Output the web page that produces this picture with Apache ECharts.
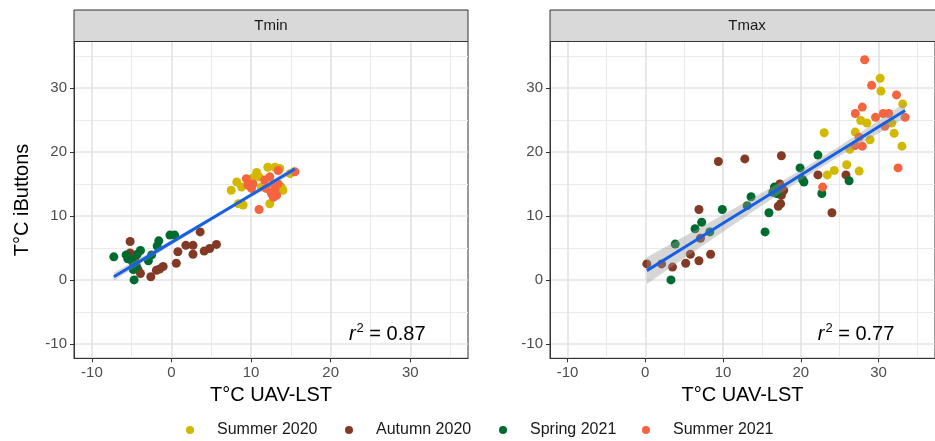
<!DOCTYPE html>
<html>
<head>
<meta charset="utf-8">
<script src="https://cdn.jsdelivr.net/npm/echarts@6/dist/echarts.min.js"></script>
<style>
  html, body { margin: 0; padding: 0; background: #ffffff; }
  #chart { width: 935px; height: 441px; }
</style>
</head>
<body>
<div id="chart"></div>
<script>
// ---- labels ----
const seasons = ['Summer 2020', 'Autumn 2020', 'Spring 2021', 'Summer 2021'];
const panelTitles = ['Tmin', 'Tmax'];
const majorTicks = [-10, 0, 10, 20, 30];
const minorTicks = [-5, 5, 15, 25, 35];
const r2Labels = ['0.87', '0.77'];
const xTitle = 'T°C UAV-LST';
const yTitle = 'T°C iButtons';

// ---- Tmin panel: [UAV-LST, iButton] ----
const tminSummer2020 = [
  [7.5, 14.0], [8.2, 15.3], [8.8, 14.5], [8.4, 11.9], [9.0, 11.7], [10.7, 16.8],
  [11.0, 16.1], [11.3, 14.5], [12.1, 17.6], [13.0, 17.6], [13.6, 17.4], [13.8, 14.5],
  [14.0, 14.0], [12.35, 11.9], [14.9, 16.6], [10.2, 15.9]
];
const tminAutumn2020 = [
  [-5.2, 6.0], [-5.2, 4.2], [-4.6, 3.4], [-4.2, 1.6], [-3.9, 1.0], [-2.6, 0.5],
  [-1.9, 1.5], [-1.5, 1.7], [-1.05, 2.1], [0.6, 2.6], [0.8, 4.4], [1.8, 5.4],
  [2.7, 5.4], [2.7, 4.0], [3.6, 7.5], [4.1, 4.5], [4.8, 4.9], [5.65, 5.55]
];
const tminSpring2021 = [
  [-7.25, 3.6], [-5.7, 3.9], [-5.0, 3.1], [-4.8, 2.6], [-4.4, 2.1], [-4.8, 1.6],
  [-4.7, 0.0], [-3.9, 4.6], [-4.3, 4.0], [-2.9, 3.0], [-2.5, 3.9], [-1.8, 5.3],
  [-1.6, 6.1], [-0.2, 7.0], [0.4, 7.0], [-5.5, 3.3]
];
const tminSummer2021 = [
  [9.4, 15.8], [9.6, 14.8], [10.25, 15.0], [10.05, 14.3], [11.7, 15.6], [12.35, 16.1],
  [12.8, 15.0], [13.0, 14.0], [13.2, 13.2], [13.4, 17.1], [15.5, 16.9], [11.0, 11.0],
  [12.55, 13.5], [11.9, 14.3], [13.4, 15.0], [12.8, 12.9]
];
// fitted line and 95% band
const tminFitX = [-7.25, -3, 1, 5, 9, 13, 15.5];
const tminFitY = [0.5, 3.64, 6.6, 9.56, 12.52, 15.48, 17.33];
const tminBandLow = [-0.1, 3.19, 6.25, 9.26, 12.22, 15.08, 16.83];
const tminBandHigh = [1.1, 4.09, 6.95, 9.86, 12.82, 15.88, 17.83];

// ---- Tmax panel ----
const tmaxSummer2020 = [
  [23.0, 23.0], [23.4, 16.4], [24.3, 17.1], [25.9, 18.0], [26.3, 20.4], [27.0, 23.1],
  [27.5, 17.0], [27.7, 24.9], [28.5, 24.5], [28.9, 21.9], [30.2, 31.5], [30.3, 29.5],
  [31.7, 24.5], [32.0, 22.9], [33.0, 20.9], [33.1, 27.5]
];
const tmaxAutumn2020 = [
  [0.2, 2.5], [2.1, 2.5], [3.5, 2.0], [5.2, 2.6], [5.8, 4.0], [6.9, 3.0], [8.4, 4.0],
  [7.1, 6.5], [6.9, 11.0], [9.4, 18.5], [12.8, 18.9], [17.5, 19.4], [17.3, 15.0],
  [17.8, 14.0], [17.5, 13.2], [17.4, 11.9], [17.1, 11.5], [22.2, 16.4], [25.8, 16.4],
  [24.0, 10.5]
];
const tmaxSpring2021 = [
  [3.3, 0.0], [3.85, 5.6], [6.4, 8.0], [7.25, 9.0], [8.3, 7.5], [9.9, 11.0],
  [13.1, 11.6], [13.6, 13.0], [15.4, 7.5], [15.9, 10.5], [16.6, 14.5], [16.4, 13.7],
  [16.9, 13.5], [19.9, 17.5], [20.2, 15.7], [20.4, 15.3], [22.2, 19.5], [22.7, 13.5],
  [26.2, 15.5]
];
const tmaxSummer2021 = [
  [22.8, 14.5], [27.0, 21.0], [27.9, 20.9], [27.5, 22.3], [27.0, 26.0], [27.9, 27.0],
  [28.2, 34.4], [29.1, 30.4], [29.6, 25.4], [30.6, 26.0], [30.8, 24.0], [31.3, 26.0],
  [32.3, 28.9], [32.5, 17.5], [33.4, 25.4]
];
const tmaxFitX = [0.2, 5, 10, 15, 20, 25, 30, 33.4];
const tmaxFitY = [1.45, 5.07, 8.84, 12.61, 16.38, 20.15, 23.92, 26.48];
const tmaxBandLow = [-0.65, 3.37, 7.51, 11.61, 15.6, 19.37, 22.93, 25.28];
const tmaxBandHigh = [3.55, 6.77, 10.17, 13.61, 17.16, 20.93, 24.91, 27.68];

// ---- styling ----
const FONT = '"Liberation Sans", Arial, Helvetica, sans-serif';
const seasonColors = ['#D2B900', '#833A24', '#006B2F', '#F5643F'];
const AXIS_MIN = -12.25, AXIS_MAX = 37.25;
const PANEL_TOP = 41.5, PANEL_H = 316.8, PANEL_W = 394;
const panelLeft = [74, 550];
const STRIP_TOP = 10;
const legendLeft = [186, 345, 499, 642];

const panels = [
  { points: [tminSummer2020, tminAutumn2020, tminSpring2021, tminSummer2021],
    fitX: tminFitX, fitY: tminFitY, low: tminBandLow, high: tminBandHigh },
  { points: [tmaxSummer2020, tmaxAutumn2020, tmaxSpring2021, tmaxSummer2021],
    fitX: tmaxFitX, fitY: tmaxFitY, low: tmaxBandLow, high: tmaxBandHigh }
];
const r2Anchor = [27.1, -8.5];

const grids = panelLeft.map(l => ({
  left: l, top: PANEL_TOP, width: PANEL_W, height: PANEL_H,
  show: true, borderColor: '#333333', borderWidth: 1, backgroundColor: '#ffffff'
}));

const xAxes = [], yAxes = [];
panels.forEach((p, i) => {
  // main axes carry labels, ticks and major grid lines
  xAxes.push({
    type: 'value', gridIndex: i, min: AXIS_MIN, max: AXIS_MAX, position: 'bottom',
    name: xTitle, nameLocation: 'middle', nameGap: 27,
    nameTextStyle: { fontFamily: FONT, fontSize: 20, color: '#000000' },
    axisLine: { show: true, onZero: false, lineStyle: { color: '#333333', width: 1 } },
    axisTick: { show: true, length: 4, customValues: majorTicks, lineStyle: { color: '#333333', width: 1 } },
    axisLabel: { customValues: majorTicks, margin: 7, fontFamily: FONT, fontSize: 15, color: '#4D4D4D' },
    splitLine: { show: true, lineStyle: { color: '#E3E3E3', width: 1.6 } }
  });
  yAxes.push({
    type: 'value', gridIndex: i, min: AXIS_MIN, max: AXIS_MAX, position: 'left',
    name: i === 0 ? yTitle : '', nameLocation: 'middle', nameGap: 42,
    nameTextStyle: { fontFamily: FONT, fontSize: 20, color: '#000000' },
    axisLine: { show: true, onZero: false, lineStyle: { color: '#333333', width: 1 } },
    axisTick: { show: true, length: 4, customValues: majorTicks, lineStyle: { color: '#333333', width: 1 } },
    axisLabel: { customValues: majorTicks, margin: 7, fontFamily: FONT, fontSize: 15, color: '#4D4D4D' },
    splitLine: { show: true, lineStyle: { color: '#E3E3E3', width: 1.6 } }
  });
});
panels.forEach((p, i) => {
  // companion axes for the minor grid lines
  xAxes.push({
    type: 'value', gridIndex: i, min: AXIS_MIN, max: AXIS_MAX, position: 'bottom',
    axisLine: { show: false }, axisTick: { show: false, customValues: minorTicks },
    axisLabel: { show: false, customValues: minorTicks },
    splitLine: { show: true, lineStyle: { color: '#EAEAEA', width: 1 } }
  });
  yAxes.push({
    type: 'value', gridIndex: i, min: AXIS_MIN, max: AXIS_MAX, position: 'left',
    axisLine: { show: false }, axisTick: { show: false, customValues: minorTicks },
    axisLabel: { show: false, customValues: minorTicks },
    splitLine: { show: true, lineStyle: { color: '#EAEAEA', width: 1 } }
  });
});

const series = [];
panels.forEach((p, i) => {
  p.points.forEach((pts, s) => {
    series.push({
      type: 'scatter', name: seasons[s], xAxisIndex: i, yAxisIndex: i,
      data: pts, symbol: 'circle', symbolSize: 9, z: 2,
      itemStyle: { color: seasonColors[s], opacity: 1 },
      emphasis: { disabled: true }
    });
  });
  // confidence band as one polygon through the axis scales
  const band = p.fitX.map((x, k) => [x, p.low[k], p.high[k]]);
  series.push({
    type: 'custom', xAxisIndex: i, yAxisIndex: i, z: 3, silent: true,
    data: band, encode: { x: 0, y: [1, 2] },
    renderItem: (params, api) => {
      if (params.dataIndexInside !== 0) return null;
      const upper = band.map(d => api.coord([d[0], d[2]]));
      const lower = band.map(d => api.coord([d[0], d[1]])).reverse();
      return {
        type: 'polygon',
        shape: { points: upper.concat(lower) },
        style: { fill: '#999999', opacity: 0.4 }
      };
    }
  });
  series.push({
    type: 'line', xAxisIndex: i, yAxisIndex: i, z: 4,
    data: p.fitX.map((x, k) => [x, p.fitY[k]]),
    symbol: 'none', silent: true,
    lineStyle: { color: '#1560E6', width: 3 },
    markPoint: {
      symbol: 'circle', symbolSize: 0, silent: true,
      data: [{ coord: r2Anchor }],
      label: {
        show: true, position: 'inside',
        formatter: '{i|r}{s|2}{n| = ' + r2Labels[i] + '}',
        rich: {
          i: { fontFamily: FONT, fontSize: 20, lineHeight: 20, fontStyle: 'italic', color: '#000000' },
          s: { fontFamily: FONT, fontSize: 13, lineHeight: 13, padding: [0, 0, 11, 1], color: '#000000' },
          n: { fontFamily: FONT, fontSize: 20, lineHeight: 20, color: '#000000' }
        }
      }
    }
  });
});

// one legend block per season, placed along the bottom
const legends = seasons.map((name, s) => ({
  data: [name], left: legendLeft[s], top: 422, padding: 0,
  icon: 'circle', itemWidth: 44, itemHeight: 8,
  textStyle: { fontFamily: FONT, fontSize: 16, color: '#1A1A1A' },
  selectedMode: false
}));

// facet strips
const graphic = [];
panelLeft.forEach((l, i) => {
  graphic.push({
    type: 'rect', silent: true, z: 10,
    shape: { x: l, y: STRIP_TOP, width: PANEL_W, height: PANEL_TOP - STRIP_TOP },
    style: { fill: '#D9D9D9', stroke: '#333333', lineWidth: 1 }
  });
  graphic.push({
    type: 'text', silent: true, z: 11,
    x: l + PANEL_W / 2, y: (STRIP_TOP + PANEL_TOP) / 2,
    style: { text: panelTitles[i], fontFamily: FONT, fontSize: 15, fill: '#1A1A1A',
             align: 'center', verticalAlign: 'middle' }
  });
});

const chart = echarts.init(document.getElementById('chart'), null, { renderer: 'canvas' });
chart.setOption({
  animation: false,
  backgroundColor: '#ffffff',
  grid: grids,
  xAxis: xAxes,
  yAxis: yAxes,
  legend: legends,
  series: series,
  graphic: graphic
});
</script>
</body>
</html>
